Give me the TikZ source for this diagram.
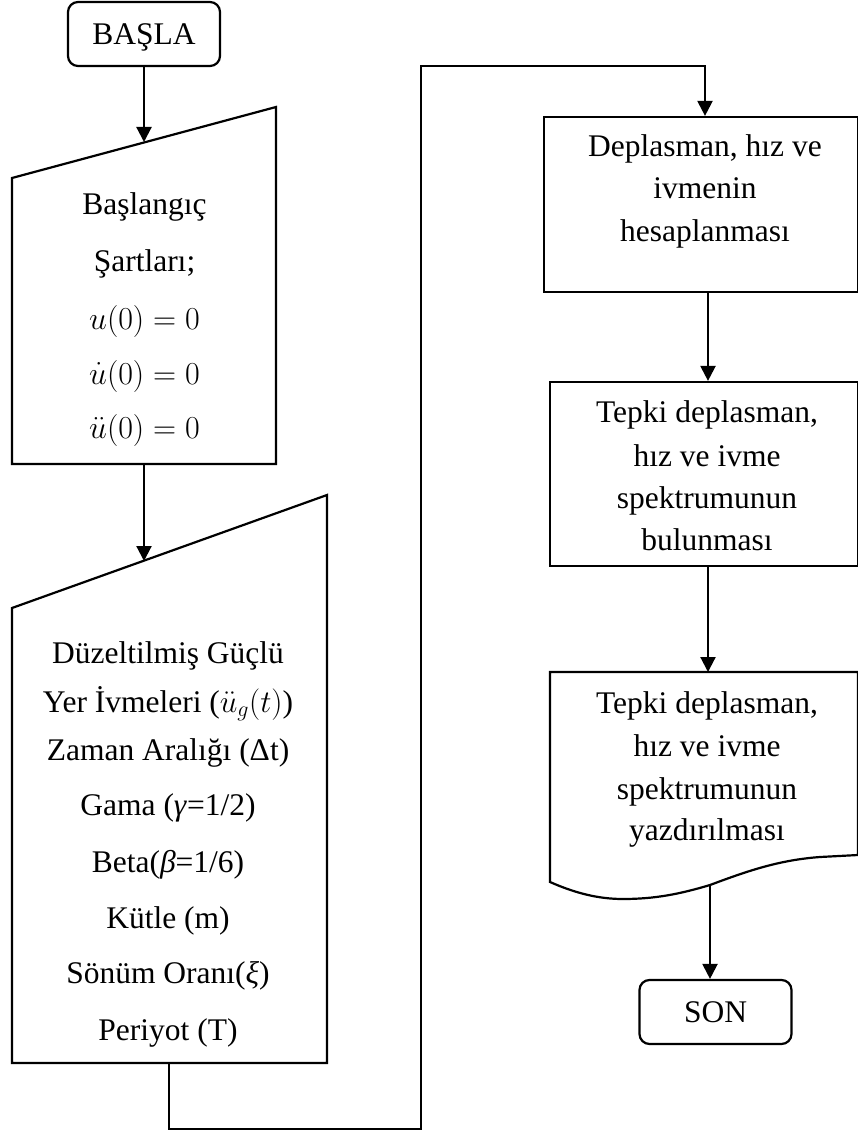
\RequirePackage{fix-cm}
\documentclass[tikz,border=0pt]{standalone}
\usepackage{fontspec}
\setmainfont{Liberation Serif}
\usetikzlibrary{arrows.meta}
\begin{document}
\begin{tikzpicture}[x=1pt,y=-1pt,line width=2.2pt,line join=miter,
  lbl/.style={anchor=base,inner sep=0pt,font=\fontsize{31.5}{38}\selectfont},
  mlbl/.style={anchor=base,inner sep=0pt,font=\fontsize{32}{38}\selectfont},
  term/.style={draw,rounded corners=10pt,minimum width=152pt,minimum height=64pt,inner sep=0pt,text height=21pt,text depth=0pt,font=\fontsize{31.5}{38}\selectfont},
  procbox/.style={draw,inner sep=0pt},
  flow/.style={-{Triangle[width=15pt,length=15pt]}}]
\useasboundingbox (0,0) rectangle (858,1131);

% start / end
\node[term] (start) at (144,34) {BAŞLA};
\node[term] (son) at (715.5,1012) {SON};

% manual input 1
\coordinate (i1tl) at (12,178);
\coordinate (i1tr) at (276,107);
\coordinate (i1br) at (276,464);
\coordinate (i1bl) at (12,464);
\draw (i1tl) -- (i1tr) -- (i1br) -- (i1bl) -- cycle;
\coordinate (i1top) at (144,142);
\coordinate (i1bot) at (144,464);
\node[lbl] (a1) at (144.5,215) {Başlangıç};
\node[lbl] (a2) at (144.5,272) {Şartları;};
\node[mlbl] (a3) at (144.5,329) {$u(0)=0$};
\node[mlbl] (a4) at (144.5,384) {$\dot{u}(0)=0$};
\node[mlbl] (a5) at (144.5,438) {$\ddot{u}(0)=0$};

% manual input 2
\coordinate (i2tl) at (12,608);
\coordinate (i2tr) at (327,495);
\coordinate (i2br) at (327,1063);
\coordinate (i2bl) at (12,1063);
\draw (i2tl) -- (i2tr) -- (i2br) -- (i2bl) -- cycle;
\coordinate (i2top) at (144,561);
\coordinate (i2bot) at (169,1063);
\node[lbl] (b1) at (168,663) {Düzeltilmiş Güçlü};
\node[lbl] (b2) at (168,712) {Yer İvmeleri ($\ddot{u}_g(t)$)};
\node[lbl] (b3) at (168,760) {Zaman Aralığı (Δt)};
\node[lbl] (b4) at (168,815) {Gama (\textit{γ}=1/2)};
\node[lbl] (b5) at (168,872) {Beta(\textit{β}=1/6)};
\node[lbl] (b6) at (168,928) {Kütle (m)};
\node[lbl] (b7) at (168,983) {Sönüm Oranı(\textit{ξ})};
\node[lbl] (b8) at (168,1040) {Periyot (T)};

% process box 1
\node[procbox,minimum width=314pt,minimum height=175pt] (p1) at (701,204.5) {};
\node[lbl] (c1) at (705,157) {Deplasman, hız ve};
\node[lbl] (c2) at (705,199) {ivmenin};
\node[lbl] (c3) at (705,242) {hesaplanması};

% process box 2
\node[procbox,minimum width=308pt,minimum height=184pt] (p2) at (704,474) {};
\node[lbl] (d1) at (707,422) {Tepki deplasman,};
\node[lbl] (d2) at (707,466) {hız ve ivme};
\node[lbl] (d3) at (707,508) {spektrumunun};
\node[lbl] (d4) at (707,550) {bulunması};

% document shape
\coordinate (dtl) at (550,672);
\coordinate (dtr) at (858,672);
\coordinate (dbot) at (710,885);
\draw (dtl) -- (dtr) -- (858,855) -- (820,857)
  .. controls (780,860) and (750,870) .. (dbot)
  .. controls (680,894) and (655,899) .. (623,899)
  .. controls (598,899) and (575,893) .. (550,882) -- cycle;
\node[lbl] (e1) at (707,713) {Tepki deplasman,};
\node[lbl] (e2) at (707,756) {hız ve ivme};
\node[lbl] (e3) at (707,799) {spektrumunun};
\node[lbl] (e4) at (707,840) {yazdırılması};

% connectors
\coordinate (ax) at (708,0);
\draw[flow] (start.south) -- (i1top);
\draw[flow] (i1bot) -- (i2top);
\coordinate (l1) at (169,1129);
\coordinate (l2) at (421,1129);
\coordinate (l3) at (421,66);
\coordinate (l4) at (705,66);
\draw[flow] (i2bot) -- (l1) -- (l2) -- (l3) -- (l4) -- (l4 |- p1.north);
\draw[flow] (ax |- p1.south) -- (ax |- p2.north);
\draw[flow] (ax |- p2.south) -- (ax |- dtl);
\draw[flow] (dbot) -- (dbot |- son.north);
\end{tikzpicture}
\end{document}
